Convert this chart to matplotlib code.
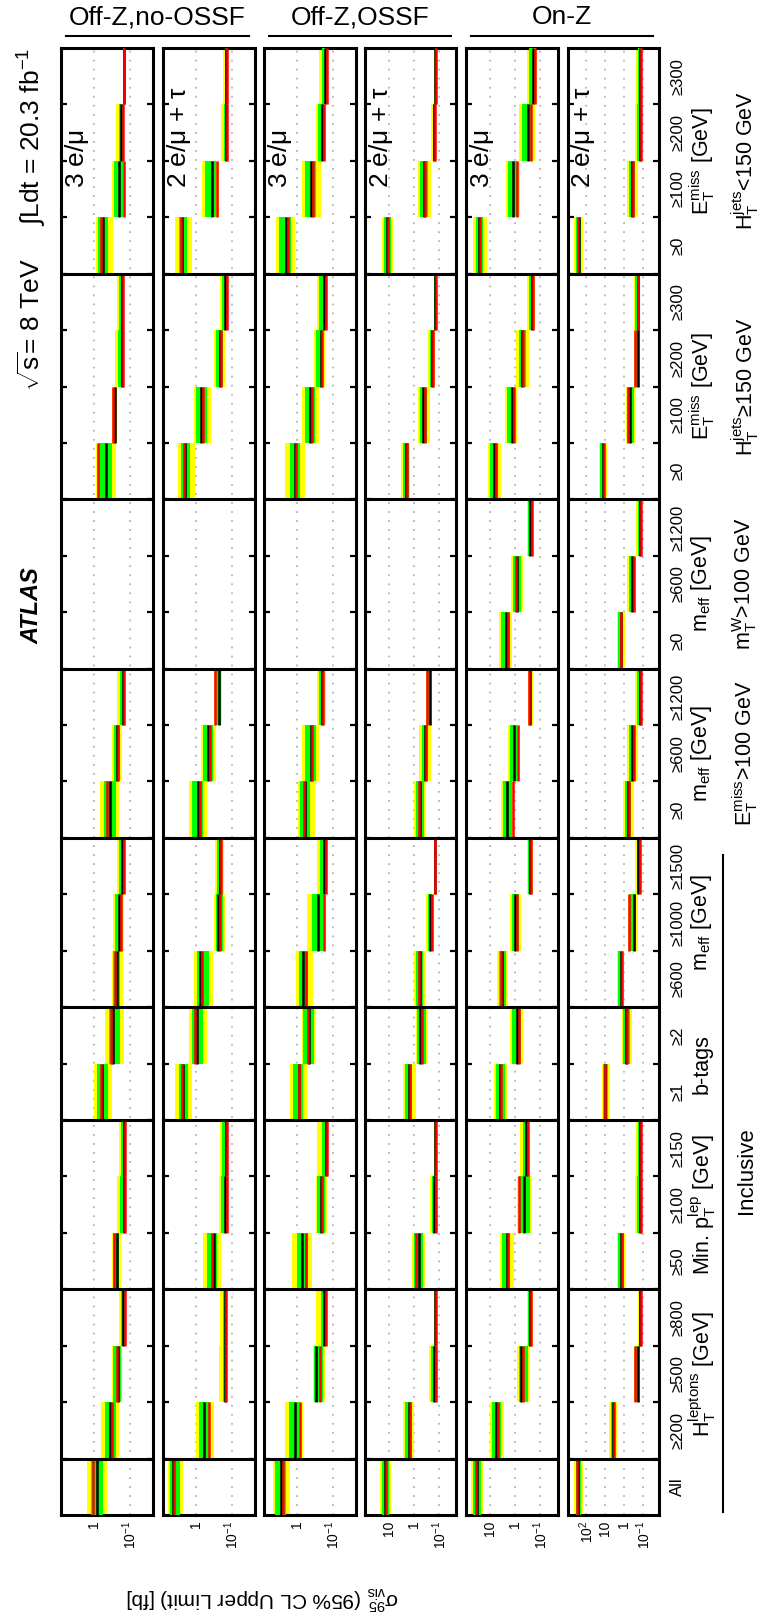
import matplotlib.pyplot as plt
import matplotlib.transforms as mtransforms
from matplotlib.lines import Line2D
from matplotlib.ticker import NullLocator
import numpy as np

plt.rcParams['font.family'] = ['Liberation Sans', 'DejaVu Sans']
plt.rcParams['mathtext.fontset'] = 'custom'
plt.rcParams['mathtext.rm'] = 'Liberation Sans'
plt.rcParams['mathtext.it'] = 'Liberation Sans:italic'
plt.rcParams['mathtext.default'] = 'regular'

nan = float('nan')

# bins from bottom (All) to top (last E_T^miss bin)
bin_labels = ['All',
              '≥200', '≥500', '≥800',
              '≥50', '≥100', '≥150',
              '≥1', '≥2',
              '≥600', '≥1000', '≥1500',
              '≥0', '≥600', '≥1200',
              '≥0', '≥600', '≥1200',
              '≥0', '≥100', '≥200', '≥300',
              '≥0', '≥100', '≥200', '≥300']
group_sizes = [1, 3, 3, 2, 3, 3, 3, 4, 4]
group_titles = ['', '$H_T^{leptons}$ [GeV]', 'Min. $p_T^{lep}$ [GeV]', 'b-tags',
                '$m_{eff}$ [GeV]', '$m_{eff}$ [GeV]', '$m_{eff}$ [GeV]',
                '$E_T^{miss}$ [GeV]', '$E_T^{miss}$ [GeV]']
group_cuts = ['', '', '', '', '', '$E_T^{miss}$>100 GeV', '$m_T^{W}$>100 GeV',
              '$H_T^{jets}$≥150 GeV', '$H_T^{jets}$<150 GeV']

row_channels = ['3 e/$\\mu$', '2 e/$\\mu$ + $\\tau$'] * 3
region_names = ['Off-Z,no-OSSF', 'Off-Z,OSSF', 'On-Z']

# Off-Z, no-OSSF, 3 e/mu
r1_obs = [1.08, 0.316, 0.227, 0.14, 0.28, 0.14, 0.136, 0.65, 0.33, 0.265, 0.18, 0.147, 0.43, 0.215, 0.147, nan, nan, nan, 0.81, 0.29, 0.158, 0.158, 0.66, 0.15, 0.155, 0.147]
r1_exp = [0.84, 0.36, 0.215, 0.16, 0.227, 0.15, 0.147, 0.6, 0.29, 0.23, 0.2, 0.167, 0.36, 0.23, 0.16, nan, nan, nan, 0.46, 0.26, 0.167, 0.167, 0.57, 0.2, 0.175, 0.15]
r1_hi2 = [1.58, 0.63, 0.31, 0.2, 0.31, 0.227, 0.2, 1.0, 0.49, 0.316, 0.29, 0.227, 0.68, 0.316, 0.227, nan, nan, nan, 0.88, 0.31, 0.26, 0.23, 0.93, 0.32, 0.245, 0.16]
r1_hi1 = [1.23, 0.51, 0.29, 0.18, 0.29, 0.19, 0.176, 0.86, 0.39, 0.29, 0.26, 0.195, 0.53, 0.285, 0.19, nan, nan, nan, 0.74, 0.285, 0.21, 0.2, 0.79, 0.28, 0.2, 0.155]
r1_lo1 = [0.57, 0.245, 0.176, 0.15, 0.195, 0.145, 0.142, 0.41, 0.19, 0.19, 0.167, 0.155, 0.245, 0.185, 0.15, nan, nan, nan, 0.32, 0.24, 0.155, 0.158, 0.41, 0.158, 0.155, 0.148]
r1_lo2 = [0.43, 0.2, 0.167, 0.145, 0.18, 0.14, 0.138, 0.32, 0.147, 0.16, 0.147, 0.147, 0.2, 0.167, 0.145, nan, nan, nan, 0.245, 0.225, 0.15, 0.152, 0.30, 0.15, 0.15, 0.147]

# Off-Z, no-OSSF, 2 e/mu + tau
r2_obs = [4.4, 0.44, 0.143, 0.15, 0.36, 0.14, 0.14, 2.5, 1.08, 0.7, 0.22, 0.195, 0.77, 0.41, 0.29, nan, nan, nan, 2.27, 0.66, 0.205, 0.14, 2.8, 0.265, 0.14, 0.136]
r2_exp = [4.6, 0.6, 0.16, 0.16, 0.32, 0.16, 0.15, 2.33, 0.95, 0.77, 0.245, 0.215, 0.9, 0.46, 0.23, nan, nan, nan, 2.05, 0.74, 0.215, 0.16, 2.5, 0.37, 0.147, 0.143]
r2_hi2 = [6.5, 1.0, 0.23, 0.215, 0.65, 0.23, 0.215, 3.9, 1.58, 1.17, 0.31, 0.3, 1.58, 0.74, 0.31, nan, nan, nan, 3.25, 1.17, 0.31, 0.22, 3.9, 0.70, 0.205, 0.18]
r2_hi1 = [5.4, 0.84, 0.18, 0.18, 0.5, 0.2, 0.185, 3.16, 1.29, 0.95, 0.285, 0.265, 1.36, 0.63, 0.28, nan, nan, nan, 2.8, 1.0, 0.28, 0.185, 3.2, 0.57, 0.17, 0.16]
r2_lo1 = [3.0, 0.42, 0.15, 0.152, 0.265, 0.15, 0.145, 1.7, 0.65, 0.44, 0.18, 0.185, 0.65, 0.34, 0.2, nan, nan, nan, 1.5, 0.5, 0.18, 0.145, 1.8, 0.28, 0.142, 0.14]
r2_lo2 = [2.33, 0.32, 0.142, 0.147, 0.2, 0.14, 0.14, 1.33, 0.5, 0.34, 0.16, 0.17, 0.5, 0.28, 0.19, nan, nan, nan, 1.08, 0.39, 0.16, 0.14, 1.3, 0.23, 0.138, 0.136]

# Off-Z, OSSF, 3 e/mu
r3_obs = [2.55, 0.82, 0.23, 0.158, 0.56, 0.2, 0.146, 0.88, 0.49, 0.56, 0.18, 0.158, 0.65, 0.38, 0.19, nan, nan, nan, 1.13, 0.38, 0.2, 0.158, 1.79, 0.37, 0.18, 0.15]
r3_exp = [2.9, 1.19, 0.3, 0.18, 0.72, 0.21, 0.158, 0.93, 0.46, 0.68, 0.26, 0.18, 0.59, 0.41, 0.2, nan, nan, nan, 1.19, 0.43, 0.22, 0.18, 2.08, 0.41, 0.2, 0.166]
r3_hi2 = [5.0, 2.25, 0.36, 0.3, 1.46, 0.3, 0.27, 1.66, 0.76, 1.1, 0.53, 0.27, 0.97, 0.72, 0.28, nan, nan, nan, 2.25, 0.72, 0.34, 0.28, 3.9, 0.72, 0.3, 0.24]
r3_hi1 = [4.2, 1.74, 0.34, 0.21, 1.05, 0.28, 0.2, 1.35, 0.68, 0.93, 0.38, 0.23, 0.82, 0.6, 0.25, nan, nan, nan, 1.66, 0.62, 0.3, 0.24, 3.3, 0.62, 0.26, 0.2]
r3_lo1 = [2.08, 0.93, 0.19, 0.16, 0.49, 0.166, 0.15, 0.68, 0.35, 0.49, 0.19, 0.16, 0.43, 0.3, 0.175, nan, nan, nan, 0.82, 0.32, 0.19, 0.16, 1.54, 0.3, 0.175, 0.155]
r3_lo2 = [1.6, 0.68, 0.17, 0.155, 0.38, 0.146, 0.146, 0.53, 0.3, 0.36, 0.158, 0.146, 0.32, 0.25, 0.16, nan, nan, nan, 0.62, 0.25, 0.166, 0.155, 1.19, 0.22, 0.16, 0.15]

# Off-Z, OSSF, 2 e/mu + tau
r4_obs = [13.4, 1.54, 0.138, 0.138, 0.9, 0.138, 0.138, 1.54, 0.49, 0.63, 0.2, 0.149, 0.63, 0.34, 0.316, nan, nan, nan, 1.98, 0.39, 0.178, 0.138, 11.1, 0.38, 0.149, 0.138]
r4_exp = [14.9, 1.7, 0.17, 0.149, 0.63, 0.166, 0.149, 1.7, 0.58, 0.58, 0.237, 0.154, 0.58, 0.38, 0.237, nan, nan, nan, 2.2, 0.44, 0.2, 0.15, 12.0, 0.41, 0.16, 0.149]
r4_hi2 = [22.9, 2.94, 0.26, 0.166, 1.2, 0.237, 0.166, 2.94, 0.9, 1.07, 0.34, 0.17, 1.0, 0.63, 0.35, nan, nan, nan, 3.5, 0.70, 0.3, 0.17, 19.8, 0.70, 0.21, 0.17]
r4_hi1 = [19.1, 2.46, 0.22, 0.158, 1.0, 0.2, 0.158, 2.46, 0.78, 0.9, 0.3, 0.16, 0.84, 0.52, 0.3, nan, nan, nan, 2.94, 0.58, 0.25, 0.16, 16.0, 0.58, 0.18, 0.158]
r4_lo1 = [10.4, 1.2, 0.15, 0.14, 0.44, 0.15, 0.14, 1.2, 0.34, 0.44, 0.19, 0.145, 0.41, 0.28, 0.21, nan, nan, nan, 1.7, 0.31, 0.165, 0.142, 8.7, 0.28, 0.15, 0.14]
r4_lo2 = [8.7, 1.0, 0.14, 0.136, 0.37, 0.14, 0.136, 0.9, 0.28, 0.34, 0.17, 0.14, 0.34, 0.21, 0.2, nan, nan, nan, 1.43, 0.25, 0.15, 0.136, 7.2, 0.22, 0.145, 0.136]

# On-Z, 3 e/mu
r5_obs = [38.4, 4.9, 0.49, 0.24, 2.03, 0.7, 0.32, 3.8, 0.75, 3.7, 0.84, 0.24, 1.28, 0.78, 0.29, 2.03, 0.93, 0.22, 5.9, 1.19, 0.49, 0.19, 26.0, 0.84, 0.24, 0.17]
r5_exp = [34.6, 5.9, 0.59, 0.27, 2.26, 0.44, 0.37, 4.1, 0.9, 3.45, 1.0, 0.27, 2.18, 1.19, 0.26, 2.4, 0.84, 0.26, 7.0, 1.42, 0.53, 0.226, 29.0, 1.28, 0.31, 0.203]
r5_hi2 = [58.7, 10.0, 0.9, 0.345, 4.1, 0.9, 0.63, 7.0, 1.7, 5.3, 1.7, 0.345, 3.7, 1.89, 0.32, 4.6, 1.53, 0.345, 11.9, 2.7, 0.93, 0.345, 49.0, 2.42, 0.70, 0.345]
r5_hi1 = [49.0, 8.4, 0.75, 0.31, 3.45, 0.7, 0.49, 5.9, 1.42, 4.6, 1.42, 0.31, 3.1, 1.58, 0.3, 3.8, 1.28, 0.31, 10.0, 2.18, 0.75, 0.29, 38.0, 1.89, 0.55, 0.29]
r5_lo1 = [24.3, 3.7, 0.32, 0.22, 1.58, 0.27, 0.33, 2.7, 0.59, 2.4, 0.7, 0.22, 1.42, 0.84, 0.23, 1.7, 0.59, 0.22, 4.9, 1.0, 0.37, 0.19, 19.0, 0.84, 0.22, 0.153]
r5_lo2 = [20.3, 2.9, 0.27, 0.2, 1.19, 0.22, 0.3, 2.26, 0.49, 1.9, 0.59, 0.2, 1.19, 0.65, 0.2, 1.42, 0.49, 0.2, 3.7, 0.84, 0.29, 0.165, 14.0, 0.63, 0.17, 0.133]

# On-Z, 2 e/mu + tau
r6_obs = [316, 3.65, 0.27, 0.133, 1.27, 0.14, 0.127, 10.0, 0.72, 1.4, 0.56, 0.16, 0.54, 0.33, 0.13, 1.47, 0.33, 0.127, 12.0, 0.68, 0.27, 0.19, 275, 0.37, 0.13, 0.127]
r6_exp = [275, 4.2, 0.19, 0.154, 1.47, 0.16, 0.147, 11.0, 0.79, 1.6, 0.33, 0.19, 0.65, 0.42, 0.16, 1.6, 0.42, 0.154, 14.0, 0.49, 0.2, 0.2, 250, 0.42, 0.16, 0.147]
r6_hi2 = [445, 6.2, 0.3, 0.2, 2.6, 0.27, 0.24, 15.4, 1.4, 2.6, 0.62, 0.27, 1.15, 0.72, 0.27, 2.6, 0.72, 0.24, 22.6, 0.87, 0.32, 0.3, 445, 0.72, 0.27, 0.24]
r6_hi1 = [365, 5.35, 0.26, 0.175, 2.05, 0.21, 0.19, 13.4, 1.15, 2.26, 0.49, 0.23, 0.91, 0.59, 0.21, 2.26, 0.59, 0.19, 18.6, 0.72, 0.26, 0.27, 365, 0.56, 0.21, 0.19]
r6_lo1 = [195, 3.0, 0.17, 0.14, 1.0, 0.145, 0.135, 7.5, 0.49, 1.27, 0.24, 0.16, 0.44, 0.27, 0.14, 1.15, 0.3, 0.135, 10.5, 0.3, 0.17, 0.19, 195, 0.27, 0.14, 0.135]
r6_lo2 = [155, 2.37, 0.154, 0.13, 0.79, 0.135, 0.125, 5.9, 0.38, 1.0, 0.19, 0.15, 0.33, 0.2, 0.13, 0.95, 0.24, 0.125, 8.6, 0.24, 0.15, 0.17, 155, 0.2, 0.13, 0.125]

rows = [
    (r1_obs, r1_exp, r1_hi2, r1_hi1, r1_lo1, r1_lo2),
    (r2_obs, r2_exp, r2_hi2, r2_hi1, r2_lo1, r2_lo2),
    (r3_obs, r3_exp, r3_hi2, r3_hi1, r3_lo1, r3_lo2),
    (r4_obs, r4_exp, r4_hi2, r4_hi1, r4_lo1, r4_lo2),
    (r5_obs, r5_exp, r5_hi2, r5_hi1, r5_lo1, r5_lo2),
    (r6_obs, r6_exp, r6_hi2, r6_hi1, r6_lo1, r6_lo2),
]

# limits are drawn with large values on the left (rotated ATLAS figure)
xlims = [(8.8, 0.0227), (8.8, 0.0227), (8.8, 0.0227), (93, 0.021), (93, 0.021), (1000, 0.015)]
xtick_sets = [[1, 0.1], [1, 0.1], [1, 0.1], [10, 1, 0.1], [10, 1, 0.1], [100, 10, 1, 0.1]]
tick_text = {100: '$10^{2}$', 10: '10', 1: '1', 0.1: '$10^{-1}$'}

W, H = 760, 1617
top_px, bot_px = 48, 1515
panel_left = [61, 163, 264, 365, 466, 567.5]
panel_w = 91.5
nbins = len(bin_labels)
bin_px = (bot_px - top_px) / nbins

fig = plt.figure(figsize=(W / 100, H / 100), dpi=100)

group_edges = np.cumsum([0] + group_sizes)

axes = []
for k, (obs, exp, hi2, hi1, lo1, lo2) in enumerate(rows):
    ax = fig.add_axes([panel_left[k] / W, (H - bot_px) / H, panel_w / W, (bot_px - top_px) / H])
    axes.append(ax)
    ax.set_xscale('log')
    ax.set_xlim(*xlims[k])
    ax.set_ylim(0, nbins)

    obs = np.array(obs, dtype=float)
    exp = np.array(exp, dtype=float)
    hi2 = np.array(hi2, dtype=float)
    hi1 = np.array(hi1, dtype=float)
    lo1 = np.array(lo1, dtype=float)
    lo2 = np.array(lo2, dtype=float)

    ok = ~np.isnan(exp)
    ybin = np.arange(nbins)
    for i in ybin[ok]:
        ax.fill_betweenx([i, i + 1], lo2[i], hi2[i], color='#ffff00', lw=0, zorder=2)
        ax.fill_betweenx([i, i + 1], lo1[i], hi1[i], color='#00ff00', lw=0, zorder=3)
    ax.vlines(exp[ok], ybin[ok], ybin[ok] + 1, color='black', lw=1.8, zorder=4)
    ax.vlines(obs[ok], ybin[ok], ybin[ok] + 1, color='red', lw=1.8, zorder=5)

    for b in group_edges[1:-1]:
        ax.axhline(b, color='black', lw=2.2, zorder=6)

    ax.set_xticks(xtick_sets[k])
    ax.set_xticklabels([tick_text[t] for t in xtick_sets[k]], rotation=90, fontsize=10)
    ax.xaxis.set_minor_locator(NullLocator())
    ax.tick_params(axis='x', which='major', length=0, pad=4)
    ax.grid(axis='x', which='major', color='#b4b4b4', ls=(0, (1, 4)), lw=1.3, zorder=1)

    ax.set_yticks(np.arange(1, nbins), minor=True)
    ax.tick_params(axis='y', which='minor', direction='in', left=True, right=True,
                   length=4, width=1.6)
    ax.set_yticks(np.arange(nbins) + 0.5)
    ax.tick_params(axis='y', which='major', length=0, left=False, labelleft=False,
                   right=False, labelright=(k == 5), pad=8)
    if k == 5:
        ax.set_yticklabels(bin_labels, rotation=90, va='center', fontsize=12)

    for sp in ax.spines.values():
        sp.set_linewidth(2.2)

    ax.text(0.17, nbins - (188 - top_px) / bin_px, row_channels[k], rotation=90,
            ha='center', va='bottom', fontsize=19, transform=ax.get_yaxis_transform())

# region names with underlines at the top
for j, name in enumerate(region_names):
    x0 = panel_left[2 * j] + 5
    x1 = panel_left[2 * j + 1] + panel_w - 6
    fig.text((x0 + x1) / 2 / W, 1 - 17 / H, name, ha='center', va='center', fontsize=19)
    fig.add_artist(Line2D([x0 / W, x1 / W], [1 - 36 / H, 1 - 36 / H], color='black', lw=1.5))

# category labels on the right side
trans = mtransforms.blended_transform_factory(fig.transFigure, axes[5].transData)
for g in range(len(group_sizes)):
    c = (group_edges[g] + group_edges[g + 1]) / 2
    if group_titles[g]:
        fig.text(702 / W, c, group_titles[g], rotation=90, ha='center', va='center',
                 fontsize=15.5, transform=trans)
    if group_cuts[g]:
        fig.text(745 / W, c, group_cuts[g], rotation=90, ha='center', va='center',
                 fontsize=15.5, transform=trans)

fig.add_artist(Line2D([723 / W, 723 / W], [0.05, group_edges[5] - 0.3], color='black',
                      lw=1.5, transform=trans))
fig.text(747 / W, group_edges[5] / 2 + 0.1, 'Inclusive', rotation=90, ha='center',
         va='center', fontsize=16, transform=trans)

# ATLAS labels on the left
fig.text(32 / W, 1 - 137 / H, '$\\int$Ldt = 20.3 fb$^{-1}$', rotation=90, ha='center',
         va='center', fontsize=19)
fig.text(32 / W, 1 - 325 / H, '$\\sqrt{s}$= 8 TeV', rotation=90, ha='center', va='center',
         fontsize=19)
fig.text(32 / W, 1 - 606 / H, 'ATLAS', rotation=90, ha='center', va='center', fontsize=17,
         fontweight='bold', fontstyle='italic')

fig.text(262 / W, 1 - 1598 / H, '$\\sigma^{95}_{vis}$ (95% CL Upper Limit) [fb]',
         rotation=180, ha='center', va='center', fontsize=15)

fig.savefig('out.png', dpi=100)
